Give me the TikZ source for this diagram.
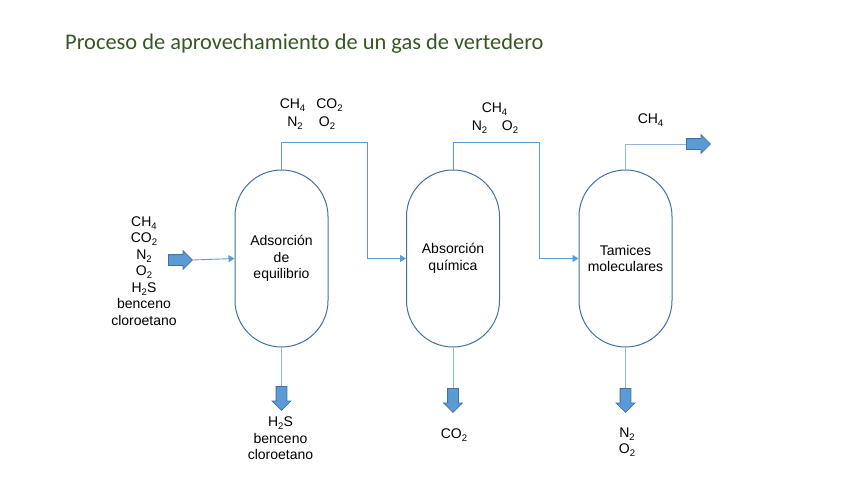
\documentclass[tikz,border=0pt]{standalone}
\usepackage{fontspec}
\setmainfont{Liberation Sans}
\newfontfamily\titlefont{Carlito}
\usetikzlibrary{arrows.meta,shapes.arrows}
\definecolor{vessel}{HTML}{41719C}
\definecolor{pipe}{HTML}{5B9BD5}
\definecolor{pipelight}{HTML}{8FB8E0}
\definecolor{ttl}{HTML}{375623}
\newcommand{\lowsub}[1]{\raisebox{-0.4ex}{\fontsize{9.5}{10}\selectfont #1}}
\begin{document}
\begin{tikzpicture}[x=1pt,y=-1pt,
  vesselbox/.style={draw=vessel, line width=1pt, rounded corners=46.5pt, minimum width=93pt, minimum height=177pt, inner sep=0pt, align=center, font=\fontsize{14}{16.5}\selectfont},
  lbl/.style={align=center, font=\fontsize{14}{16.5}\selectfont, inner sep=0pt},
  pipeline/.style={draw=pipe, line width=0.9pt},
  pipearrow/.style={pipeline, -{Triangle[length=6pt,width=7pt]}},
  blockarrow/.style={single arrow, draw=vessel, fill=pipe, line width=0.8pt, inner sep=5pt, minimum width=18pt, minimum height=24pt, single arrow head extend=4pt, single arrow tip angle=90}
]
\useasboundingbox (0,0) rectangle (848,477);
% title
\node[anchor=base west, inner sep=0pt, text=ttl, font=\titlefont\fontsize{22.4}{26}\selectfont] (title) at (65,49) {Proceso de aprovechamiento de un gas de vertedero};
% vessels
\node[vesselbox] (v1) at (281.5,258.5) {Adsorción\\de\\equilibrio};
\node[vesselbox] (v2) at (453,258.5) {Absorción\\química};
\node[vesselbox] (v3) at (625.5,258.5) {Tamices\\moleculares};
% block arrows
\node[blockarrow, anchor=tail] (inarr) at (168,260) {};
\node[blockarrow, anchor=tail] (outarr) at (686,144) {};
\node[blockarrow, shape border rotate=270, anchor=tail] (b1) at (281.5,386) {};
\node[blockarrow, shape border rotate=270, anchor=tail] (b2) at (453,388) {};
\node[blockarrow, shape border rotate=270, anchor=tail] (b3) at (625.5,388) {};
% pipes
\coordinate (p1) at (367,142);
\coordinate (p2) at (539,142);
\draw[pipearrow] (inarr.tip) -- (v1.west);
\draw[pipearrow] (v1.north) |- (p1) |- (v2.west);
\draw[pipearrow] (v2.north) |- (p2) |- (v3.west);
\draw[pipeline, draw=pipelight] (v3.north) |- (outarr.tail);
\draw[pipeline, draw=pipelight] (v1.south) -- (b1.tail);
\draw[pipeline, draw=pipelight] (v2.south) -- (b2.tail);
\draw[pipeline, draw=pipelight] (v3.south) -- (b3.tail);
% labels
\node[lbl] (lin) at (144,271) {CH\lowsub{4}\\CO\lowsub{2}\\N\lowsub{2}\\O\lowsub{2}\\H\lowsub{2}S\\benceno\\cloroetano};
\node[lbl] (t1a) at (292.5,105) {CH\lowsub{4}};
\node[lbl] (t1b) at (329.5,105) {CO\lowsub{2}};
\node[lbl] (t1c) at (295,123) {N\lowsub{2}};
\node[lbl] (t1d) at (327,123) {O\lowsub{2}};
\node[lbl] (t2a) at (494.5,109) {CH\lowsub{4}};
\node[lbl] (t2b) at (479.5,127) {N\lowsub{2}};
\node[lbl] (t2c) at (510,127) {O\lowsub{2}};
\node[lbl] (t3a) at (650.5,120) {CH\lowsub{4}};
\node[lbl] (o1) at (280.5,438.5) {H\lowsub{2}S\\benceno\\cloroetano};
\node[lbl] (o2) at (454,435) {CO\lowsub{2}};
\node[lbl] (o3) at (627,442) {N\lowsub{2}\\O\lowsub{2}};
\end{tikzpicture}
\end{document}
